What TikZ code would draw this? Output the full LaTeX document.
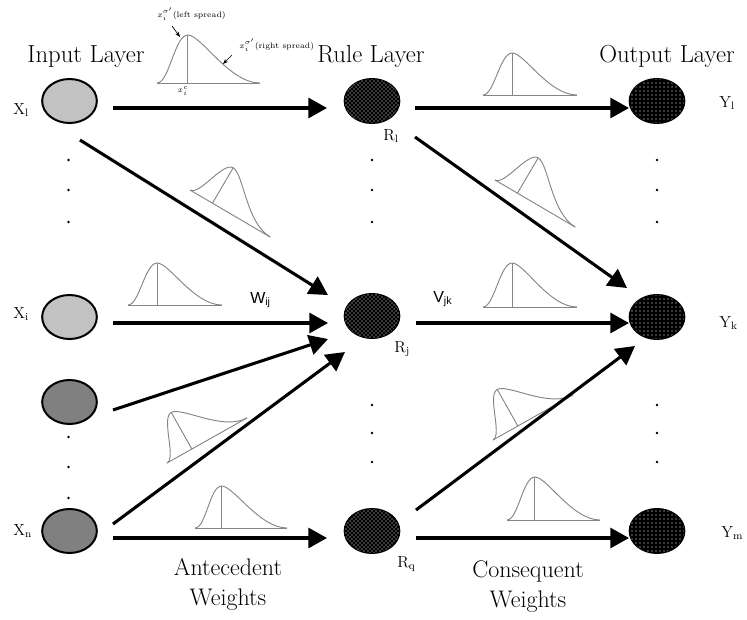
\documentclass[tikz,border=0pt]{standalone}
\usepackage{fontspec}
\newfontfamily\arialf{Liberation Sans}
\usetikzlibrary{arrows.meta,patterns,calc,shapes.geometric}
\definecolor{lightin}{HTML}{C2C2C2}
\definecolor{darkin}{HTML}{808080}
\definecolor{bellgray}{HTML}{858585}
\newcommand\bellshape[6]{%
  \begin{scope}[shift={(#1,#2)},rotate=#3,xscale=#4,yscale=#5]
    \draw[bell] (0,0) -- (1,0) (#6,0) -- (#6,-1);
    \draw[bell] (0,0) .. controls (0.12,0) and ({#6-0.13},-1) .. (#6,-1)
      .. controls ({#6+0.13},-1) and (0.7,0) .. (1,0);
  \end{scope}}
\begin{document}
\begin{tikzpicture}[x=0.75pt,y=-0.75pt,
  neuron/.style={ellipse,draw=black,line width=1.5pt,minimum width=41pt,minimum height=33pt,inner sep=0pt},
  inlight/.style={neuron,fill=lightin},
  indark/.style={neuron,fill=darkin},
  rulen/.style={neuron,fill=black,postaction={pattern=crosshatch dots,pattern color=white}},
  outn/.style={neuron,fill=black,postaction={pattern=dots,pattern color=white}},
  conn/.style={line width=2.3pt,-{Triangle[length=14pt,width=15pt]}},
  bell/.style={draw=bellgray,line width=0.7pt},
  layerlab/.style={font=\fontsize{18.5}{22}\selectfont,anchor=base,inner sep=0pt},
  weightlab/.style={font=\fontsize{18}{22}\selectfont,anchor=base,inner sep=0pt},
  nlab/.style={font=\fontsize{12}{14}\selectfont,anchor=base west,inner sep=0pt},
  slab/.style={font=\arialf\fontsize{12}{14}\selectfont,anchor=base west,inner sep=0pt},
  spreadlab/.style={font=\fontsize{6}{7}\selectfont,inner sep=0pt},
  thinarrow/.style={line width=0.5pt,-{Stealth[length=4pt,width=3pt]}}
]
\useasboundingbox (0,0) rectangle (747,619);

% neurons
\node[inlight] (xl) at (69.5,101) {};
\node[inlight] (xi) at (69.5,317) {};
\node[indark] (xt) at (69.5,402) {};
\node[indark] (xn) at (69.5,531) {};
\node[rulen] (rl) at (372,101) {};
\node[rulen] (rj) at (372,316) {};
\node[rulen] (rq) at (372,531) {};
\node[outn] (yl) at (657,101) {};
\node[outn] (yk) at (657,317) {};
\node[outn] (ym) at (657,531) {};

% titles
\node[layerlab] (tin) at (86,62) {Input Layer};
\node[layerlab] (tru) at (371,62) {Rule Layer};
\node[layerlab] (tout) at (667,62) {Output Layer};
\node[weightlab] (ant) at (228,575) {Antecedent};
\node[weightlab] (antw) at (228,605) {Weights};
\node[weightlab] (con) at (528,577) {Consequent};
\node[weightlab] (conw) at (528,607) {Weights};

% node labels
\node[nlab] (lxl) at (13,114) {X\textsubscript{l}};
\node[nlab] (lxi) at (13,318) {X\textsubscript{i}};
\node[nlab] (lxn) at (13,535) {X\textsubscript{n}};
\node[nlab] (lrl) at (383,140) {R\textsubscript{l}};
\node[nlab] (lrj) at (394,352) {R\textsubscript{j}};
\node[nlab] (lrq) at (397,567) {R\textsubscript{q}};
\node[nlab] (lyl) at (719,107) {Y\textsubscript{l}};
\node[nlab] (lyk) at (719,327) {Y\textsubscript{k}};
\node[nlab] (lym) at (721,537) {Y\textsubscript{m}};
\node[slab] (wij) at (250,303) {W\textsubscript{ij}};
\node[slab] (vjk) at (433,302) {V\textsubscript{jk}};

% vertical dots
\foreach \y in {160,190,222} {
  \fill (68.5,\y) circle (1.3); \fill (372,\y) circle (1.3); \fill (657,\y) circle (1.3);}
\foreach \y in {437,467,498} {\fill (68.5,\y) circle (1.3);}
\foreach \y in {405,433,462} {\fill (372,\y) circle (1.3); \fill (657,\y) circle (1.3);}

% membership functions
\bellshape{157}{83}{0}{103}{48}{0.30}
\bellshape{483}{95}{0}{94}{42}{0.31}
\bellshape{190}{190}{-30.4}{93}{41}{0.28}
\bellshape{495}{180}{-30.4}{93}{41}{0.28}
\bellshape{128}{305}{0}{94}{42}{0.31}
\bellshape{483}{307}{0}{94}{44}{0.31}
\bellshape{167}{463}{29.4}{92}{42}{0.31}
\bellshape{493}{440}{29.4}{92}{42}{0.31}
\bellshape{195}{528}{0}{92}{42}{0.29}
\bellshape{507}{520}{0}{93}{43}{0.30}

% spread annotations
\node[spreadlab,anchor=west] (lsl) at (157,14) {$x_i^{\sigma'}$(left spread)};
\node[spreadlab,anchor=west] (rsl) at (239,45) {$x_i^{\sigma'}$(right spread)};
\node[spreadlab] (xc) at (183,91) {$x_i^c$};
\coordinate (lsa) at (172,26); \coordinate (lsb) at (180,37);
\coordinate (rsa) at (232,55); \coordinate (rsb) at (223,64);
\draw[thinarrow] (lsa) -- (lsb);
\draw[thinarrow] (rsa) -- (rsb);

% connections
\draw[conn] ($(xl)+(43.5,7)$) -- ($(rl)+(-45,7)$);
\draw[conn] ($(xl)+(10.5,39)$) -- ($(rj)+(-44,-21)$);
\draw[conn] ($(xi)+(43.5,6)$) -- ($(rj)+(-44,7)$);
\draw[conn] ($(xt)+(43.5,8)$) -- ($(rj)+(-44,23)$);
\draw[conn] ($(xn)+(43.5,-7)$) -- ($(rj)+(-27,36)$);
\draw[conn] ($(xn)+(43.5,7)$) -- ($(rq)+(-45,7)$);
\draw[conn] ($(rl)+(43,7)$) -- ($(yl)+(-28,7)$);
\draw[conn] ($(rl)+(43,36)$) -- ($(yk)+(-30,-29)$);
\draw[conn] ($(rj)+(44,7)$) -- ($(yk)+(-28,6)$);
\draw[conn] ($(rq)+(44,-21)$) -- ($(yk)+(-22,29)$);
\draw[conn] ($(rq)+(44,7)$) -- ($(ym)+(-28,7)$);
\end{tikzpicture}
\end{document}
